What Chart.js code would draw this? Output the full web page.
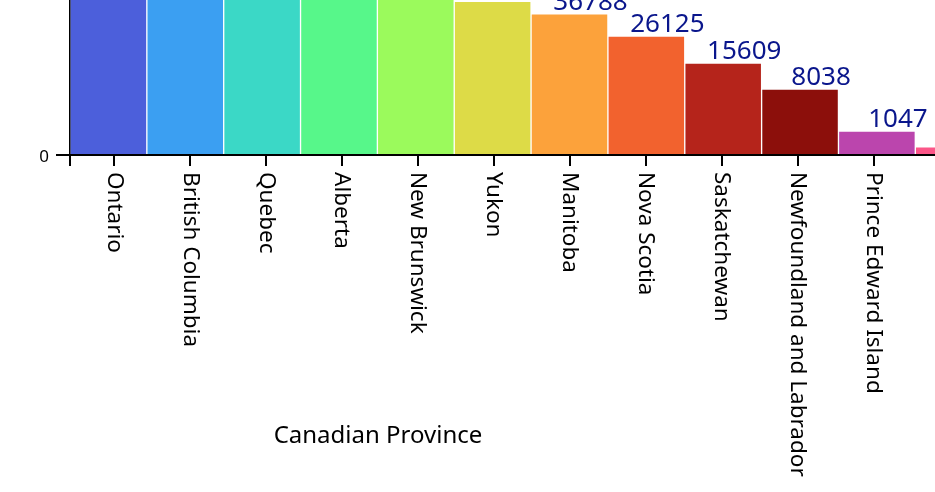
<!DOCTYPE html>
<html>
<head>
<meta charset="utf-8">
<script src="https://cdn.jsdelivr.net/npm/chart.js"></script>
<style>
  html, body { margin: 0; padding: 0; overflow: hidden; background: #fff; width: 935px; height: 492px; }
  #wrap { position: relative; width: 935px; height: 492px; overflow: hidden; }
  #chart { position: absolute; left: 0; top: -229px; }
  #xtitle {
    position: absolute; left: 0; top: 422px; width: 756px;
    text-align: center; font: 24px "Noto Sans", sans-serif; line-height: 24px; color: #000;
  }
</style>
</head>
<body>
<div id="wrap">
  <canvas id="chart" width="1089" height="721"></canvas>
  <div id="xtitle">Canadian Province</div>
</div>
<script>
// data
const provinces = ['Ontario', 'British Columbia', 'Quebec', 'Alberta', 'New Brunswick', 'Yukon',
    'Manitoba', 'Nova Scotia', 'Saskatchewan', 'Newfoundland and Labrador', 'Prince Edward Island',
    'Northwest Territories', 'Nunavut'];
const counts = [220000, 160000, 110000, 80000, 52000, 43640, 36788, 26125, 15609, 8038, 1047, 127, 40];
const barColors = ['#4c5fdb', '#3b9ff2', '#3bd8c6', '#57f78a', '#9bfa5c', '#dddb47',
    '#fca23b', '#f2622e', '#b5241b', '#8c0f0b', '#bb45ad', '#fb5688', '#f7a1c4'];
const yTickValues = [0, 50000, 100000, 150000, 200000];

// square-root value scale
class SqrtScale extends Chart.LinearScale {
    static id = 'sqrt';
    getPixelForValue(value) {
        if (value === null || value === undefined) return NaN;
        const lo = Math.sqrt(Math.max(0, this.min));
        const hi = Math.sqrt(Math.max(0, this.max));
        return this.getPixelForDecimal((Math.sqrt(Math.max(0, value)) - lo) / (hi - lo));
    }
    getValueForPixel(pixel) {
        const lo = Math.sqrt(Math.max(0, this.min));
        const hi = Math.sqrt(Math.max(0, this.max));
        const s = lo + this.getDecimalForPixel(pixel) * (hi - lo);
        return s * s;
    }
}
Chart.register(SqrtScale);

const labelFont = '22.5px "Noto Sans", sans-serif';

// rotated category labels, read top to bottom
const tickLabels = {
    id: 'tickLabels',
    afterDraw(chart) {
        const scale = chart.scales.x2;
        const ctx = chart.ctx;
        ctx.save();
        ctx.font = labelFont;
        ctx.fillStyle = '#000';
        ctx.textAlign = 'left';
        ctx.textBaseline = 'middle';
        provinces.forEach((name, i) => {
            const x = scale.getPixelForValue(i);
            ctx.save();
            ctx.translate(x, scale.top + 17);
            ctx.rotate(Math.PI / 2);
            ctx.fillText(name, 0, 0);
            ctx.restore();
        });
        ctx.restore();
    }
};

// value labels above bars
const valueLabels = {
    id: 'valueLabels',
    afterDraw(chart) {
        const ctx = chart.ctx;
        const meta = chart.getDatasetMeta(0);
        ctx.save();
        ctx.font = '26px "Noto Sans", sans-serif';
        ctx.fillStyle = '#0a168c';
        ctx.textAlign = 'center';
        ctx.textBaseline = 'alphabetic';
        meta.data.forEach((bar, i) => {
            ctx.fillText(String(counts[i]), bar.x + 21, bar.y - 4);
        });
        ctx.restore();
    }
};

const ctx = document.getElementById('chart').getContext('2d');
const chart = new Chart(ctx, {
    type: 'bar',
    data: {
        labels: provinces,
        datasets: [{
            data: counts,
            backgroundColor: barColors,
            borderColor: 'rgba(255,255,255,0.3)',
            borderWidth: 1,
            borderSkipped: 'bottom',
            barPercentage: 1,
            categoryPercentage: 1
        }]
    },
    options: {
        responsive: false,
        animation: false,
        devicePixelRatio: 1,
        layout: { padding: { left: 0, right: 20, top: 0, bottom: 0 } },
        plugins: { legend: { display: false }, tooltip: { enabled: false } },
        scales: {
            x: {
                type: 'category',
                display: false,
                offset: true
            },
            x2: {
                type: 'linear',
                position: 'bottom',
                bounds: 'data',
                offset: false,
                min: -0.579,
                max: 12.571,
                afterBuildTicks: (scale) => {
                    scale.ticks = [{ value: -0.579 }].concat(provinces.map((p, i) => ({ value: i })));
                },
                afterFit: (scale) => { scale.height = 337; },
                ticks: { display: false, autoSkip: false },
                grid: { offset: false, drawOnChartArea: false, drawTicks: true, tickLength: 11, color: '#000', lineWidth: 2 },
                border: { display: true, color: '#000', width: 2 }
            },
            y: {
                type: 'sqrt',
                bounds: 'data',
                min: 0,
                max: 250000,
                afterBuildTicks: (scale) => {
                    scale.ticks = yTickValues.map(v => ({ value: v }));
                },
                afterFit: (scale) => { scale.width = 70; },
                ticks: {
                    color: '#000', padding: 7, labelOffset: 2,
                    font: { family: 'Noto Sans', size: 17, lineHeight: 1.06 }
                },
                grid: { drawOnChartArea: false, tickLength: 14, color: '#000', lineWidth: 2 },
                border: { display: true, color: '#000', width: 2 }
            }
        }
    },
    plugins: [tickLabels, valueLabels]
});
</script>
</body>
</html>
